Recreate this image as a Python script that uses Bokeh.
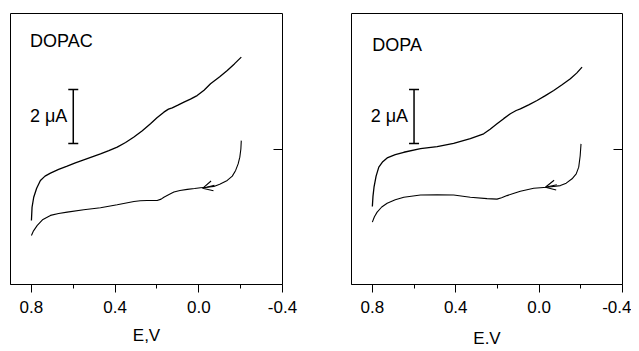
from bokeh.plotting import figure
from bokeh.layouts import row
from bokeh.models import (Range1d, FixedTicker, LinearAxis, Label, Whisker, TeeHead,
                          ColumnDataSource, Arrow, OpenHead)
from bokeh.embed import file_html
from bokeh.resources import INLINE

# ---------------- data (E in V, current in µA, arbitrary offset) ----------------
dopac_upper_E = [0.80, 0.797, 0.789, 0.775, 0.757, 0.735, 0.709, 0.67, 0.629, 0.59, 0.55, 0.51,
                 0.47, 0.43, 0.39, 0.35, 0.31, 0.27, 0.231, 0.20, 0.167, 0.145, 0.127, 0.10,
                 0.071, 0.04, 0.008, -0.025, -0.056, -0.10, -0.136, -0.17, -0.203]
dopac_upper_I = [2.36, 2.85, 3.22, 3.55, 3.84, 4.00, 4.11, 4.25, 4.37, 4.49, 4.60, 4.71,
                 4.82, 4.94, 5.07, 5.24, 5.44, 5.67, 5.93, 6.15, 6.36, 6.47, 6.52, 6.62,
                 6.73, 6.84, 6.97, 7.17, 7.41, 7.67, 7.90, 8.14, 8.39]
dopac_lower_E = [0.80, 0.79, 0.772, 0.745, 0.709, 0.67, 0.629, 0.55, 0.47, 0.39, 0.31, 0.28,
                 0.247, 0.22, 0.199, 0.18, 0.167, 0.14, 0.119, 0.09, 0.055, 0.02, -0.008,
                 -0.04, -0.072, -0.10, -0.136, -0.16, -0.176, -0.188, -0.196, -0.201, -0.203]
dopac_lower_I = [1.81, 1.98, 2.18, 2.40, 2.55, 2.62, 2.67, 2.76, 2.83, 2.94, 3.06, 3.09,
                 3.10, 3.10, 3.10, 3.15, 3.22, 3.33, 3.41, 3.47, 3.51, 3.54, 3.57,
                 3.59, 3.62, 3.70, 3.84, 4.00, 4.21, 4.45, 4.70, 5.00, 5.31]

dopa_upper_E = [0.80, 0.797, 0.792, 0.782, 0.769, 0.75, 0.729, 0.69, 0.649, 0.569, 0.489, 0.41,
                0.33, 0.266, 0.235, 0.202, 0.17, 0.138, 0.11, 0.09, 0.05, 0.010, -0.03,
                -0.070, -0.11, -0.150, -0.18, -0.206]
dopa_upper_I = [2.88, 3.25, 3.59, 4.00, 4.33, 4.53, 4.67, 4.79, 4.88, 5.01, 5.09, 5.21,
                5.38, 5.56, 5.73, 5.93, 6.12, 6.30, 6.42, 6.48, 6.63, 6.79, 6.97,
                7.16, 7.37, 7.59, 7.80, 8.02]
dopa_lower_E = [0.80, 0.79, 0.777, 0.755, 0.729, 0.69, 0.649, 0.569, 0.489, 0.41, 0.33, 0.25,
                0.202, 0.18, 0.154, 0.12, 0.09, 0.026, -0.038, -0.102, -0.13, -0.158,
                -0.178, -0.190, -0.197, -0.201]
dopa_lower_I = [2.30, 2.50, 2.67, 2.86, 3.00, 3.13, 3.22, 3.30, 3.31, 3.30, 3.22, 3.17,
                3.15, 3.20, 3.28, 3.37, 3.44, 3.55, 3.59, 3.65, 3.74, 3.90,
                4.08, 4.33, 4.75, 5.19]

# arrows on the return sweep: [start_E, start_I, tip_E, tip_I]
dopac_arrow = [-0.075, 3.66, -0.018, 3.55]
dopa_arrow = [-0.085, 3.68, -0.030, 3.59]

x_ticks = [0.8, 0.4, 0.0, -0.4]
x_minor = [0.6, 0.2, -0.2]
x_tick_labels = {0.8: "0.8", 0.4: "0.4", 0.0: "0.0", -0.4: "-0.4"}
right_tick = [5.0]

# scale bar: base E, lower I, upper I  (2 µA)
scalebar = dict(base=[0.6], lower=[5.2], upper=[7.2])

FONT = "Liberation Sans"
H = 351
TOP = 13
FRAME_H = 271


def panel(title, upper_E, upper_I, lower_E, lower_I, arrow, xlabel, xlabel_standoff,
          title_pos, min_left, min_right, frame_w):
    p = figure(width=min_left + frame_w + min_right, height=H,
               x_range=Range1d(0.9, -0.4), y_range=Range1d(0, 10),
               output_backend="svg", toolbar_location=None,
               y_axis_location=None,
               min_border_left=min_left, min_border_right=min_right,
               min_border_top=TOP, min_border_bottom=H - TOP - FRAME_H)
    p.grid.visible = False
    p.outline_line_color = "black"
    p.outline_line_width = 1
    p.outline_line_alpha = 1
    p.background_fill_color = "white"
    p.border_fill_color = "white"

    ax = p.xaxis[0]
    ax.ticker = FixedTicker(ticks=x_ticks, minor_ticks=x_minor)
    ax.major_label_overrides = x_tick_labels
    ax.major_tick_out = 8
    ax.major_tick_in = 0
    ax.minor_tick_out = 4
    ax.minor_tick_in = 0
    ax.axis_line_color = "black"
    ax.major_tick_line_color = "black"
    ax.minor_tick_line_color = "black"
    ax.major_label_text_font = FONT
    ax.major_label_text_font_size = "17px"
    ax.major_label_text_color = "black"
    ax.major_label_standoff = 8
    ax.axis_label = xlabel
    ax.axis_label_text_font = FONT
    ax.axis_label_text_font_size = "17px"
    ax.axis_label_text_font_style = "normal"
    ax.axis_label_text_color = "black"
    ax.axis_label_standoff = xlabel_standoff

    rax = LinearAxis(ticker=FixedTicker(ticks=right_tick, minor_ticks=[]),
                     major_tick_in=9, major_tick_out=0,
                     minor_tick_in=0, minor_tick_out=0,
                     axis_line_color=None,
                     major_tick_line_color="black",
                     major_label_text_color=None)
    p.add_layout(rax, "right")

    p.line(upper_E, upper_I, line_color="black", line_width=1.3)
    p.line(lower_E, lower_I, line_color="black", line_width=1.1)

    p.add_layout(Arrow(end=OpenHead(size=10, line_width=1.1, line_color="black"),
                       x_start=arrow[0], y_start=arrow[1], x_end=arrow[2], y_end=arrow[3],
                       line_width=1.1, line_color="black"))

    src = ColumnDataSource(scalebar)
    p.add_layout(Whisker(source=src, base="base", lower="lower", upper="upper",
                         dimension="height", line_width=1.5, line_color="black",
                         upper_head=TeeHead(size=10, line_width=1.5, line_color="black"),
                         lower_head=TeeHead(size=10, line_width=1.5, line_color="black")))
    p.add_layout(Label(x=scalebar["base"][0], y=(scalebar["lower"][0] + scalebar["upper"][0]) / 2,
                       x_offset=-6, text="2 μA", text_align="right", text_baseline="middle",
                       text_font=FONT, text_font_size="18px", text_color="black"))

    p.add_layout(Label(x=title_pos[0], y=title_pos[1], text=title, text_align="left",
                       text_baseline="alphabetic", text_font=FONT, text_font_size="18px",
                       text_color="black"))
    return p


p1 = panel("DOPAC", dopac_upper_E, dopac_upper_I, dopac_lower_E, dopac_lower_I, dopac_arrow,
           "E,V", 10, (0.807, 9.0), 10, 35, 272)
p2 = panel("DOPA", dopa_upper_E, dopa_upper_I, dopa_lower_E, dopa_lower_I, dopa_arrow,
           "E.V", 13, (0.80, 8.82), 34, 9, 271)

layout = row(p1, p2)
open("out.html", "w").write(file_html(layout, INLINE))
